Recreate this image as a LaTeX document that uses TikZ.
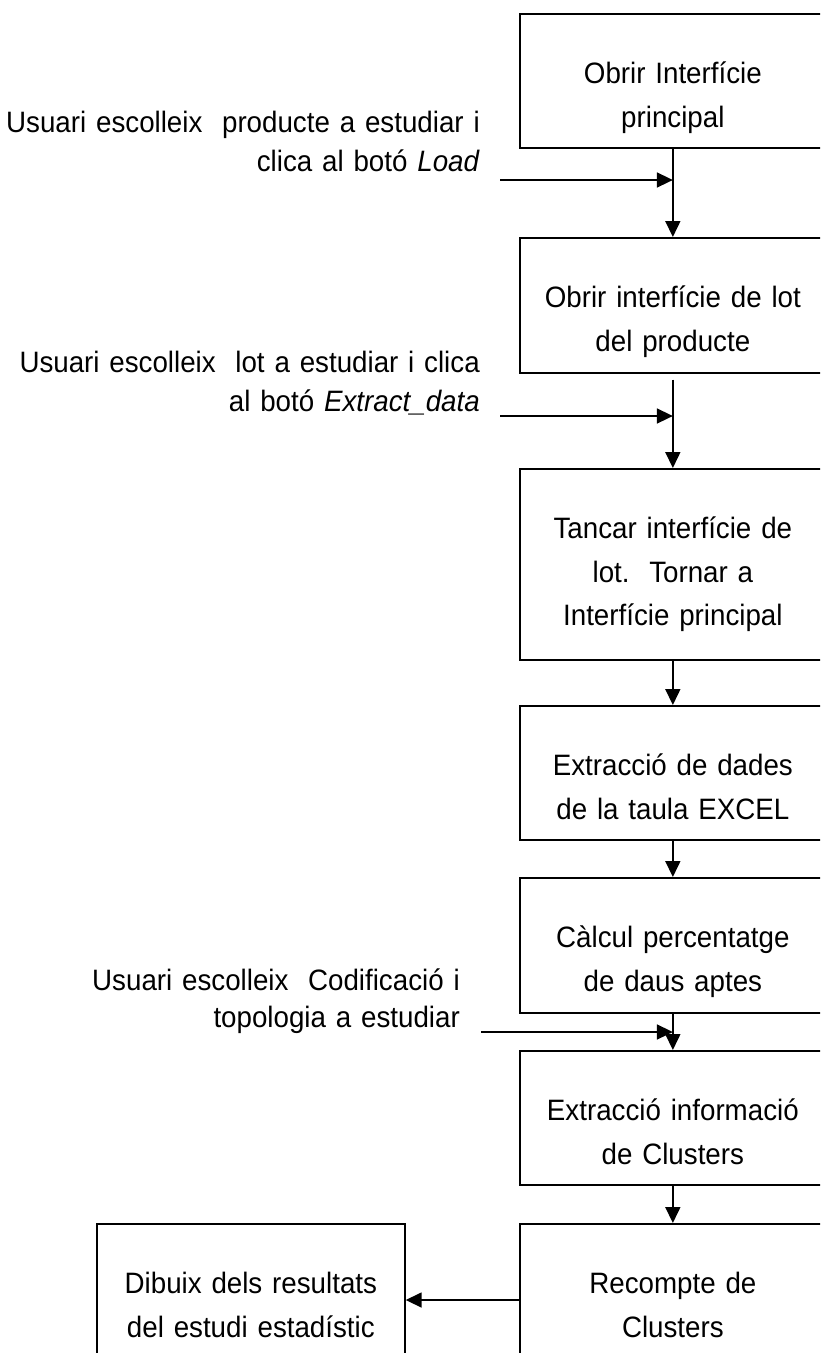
\documentclass[tikz,border=0pt]{standalone}
\usepackage{fontspec}
\setmainfont{Liberation Sans}[FakeStretch=0.94]
\usetikzlibrary{arrows.meta}
\hyphenpenalty=10000
\exhyphenpenalty=10000
\begin{document}
\begin{tikzpicture}[x=1pt,y=-1pt,
  stepbox/.style={draw, line width=1.7pt, anchor=north west, inner sep=0pt,
    text width=306pt, align=center, font=\fontsize{29.5}{43.5}\selectfont, text height=70pt},
  sidelabel/.style={anchor=base east, inner sep=0pt, text width=520pt, align=right,
    font=\fontsize{29.5}{39}\selectfont},
  arr/.style={line width=1.7pt, -{Triangle[length=16pt,width=15pt]}}
]
\path[use as bounding box] (0,0) rectangle (820,1353);
\clip (0,0) rectangle (820,1353);

\node[stepbox, text depth=64pt] (b1) at (519,13) {Obrir Interfície\\principal};
\node[stepbox, text depth=65pt] (b2) at (519,237) {Obrir interfície de lot\\del producte};
\node[stepbox, text depth=121pt] (b3) at (519,468) {Tancar interfície de\\lot.\ \ Tornar a\\Interfície principal};
\node[stepbox, text depth=64pt] (b4) at (519,705) {Extracció de dades\\de la taula EXCEL};
\node[stepbox, text depth=65pt] (b5) at (519,877) {Càlcul percentatge\\de daus aptes};
\node[stepbox, text depth=64pt] (b6) at (519,1050) {Extracció informació\\de Clusters};
\node[stepbox, text depth=110pt] (b7) at (519,1223) {Recompte de\\Clusters};
\node[stepbox, text depth=110pt, text width=308pt] (lb) at (96,1223) {Dibuix dels resultats\\del estudi estadístic};

\node[sidelabel] (l1) at (480,132) {Usuari escolleix\ \ producte a estudiar i\\clica al botó \textit{Load}};
\node[sidelabel] (l2) at (480,372) {Usuari escolleix\ \ lot a estudiar i clica\\al botó \textit{Extract\_data}};
\node[sidelabel, font=\fontsize{29.5}{37}\selectfont] (l3) at (460,990) {Usuari escolleix\ \ Codificació i\\topologia a estudiar};

\draw[arr] (b1.south) -- (b2.north);
\draw[arr, shorten <=6pt] (b2.south) -- (b3.north);
\draw[arr] (b3.south) -- (b4.north);
\draw[arr] (b4.south) -- (b5.north);
\draw[arr] (b5.south) -- (b6.north);
\draw[arr] (b6.south) -- (b7.north);

\coordinate (s1) at (500,180);
\coordinate (s2) at (500,416);
\coordinate (s3) at (481,1032);
\draw[arr] (s1) -- (s1 -| b1.south);
\draw[arr] (s2) -- (s2 -| b2.south);
\draw[arr] (s3) -- (s3 -| b5.south);

\coordinate (m) at (519,1300);
\draw[arr] (b7.west |- m) -- (lb.east |- m);
\end{tikzpicture}
\end{document}
